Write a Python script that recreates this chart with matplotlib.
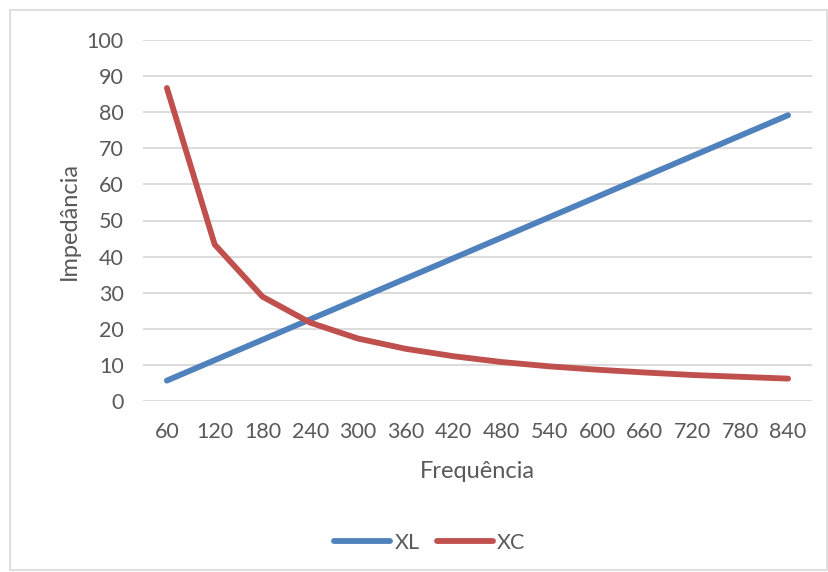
import matplotlib.pyplot as plt
from matplotlib.patches import Rectangle

freq = [60, 120, 180, 240, 300, 360, 420, 480, 540, 600, 660, 720, 780, 840]
xl = [5.65, 11.31, 16.96, 22.62, 28.27, 33.93, 39.58, 45.24, 50.89, 56.55, 62.20, 67.86, 73.51, 79.17]
xc = [86.7, 43.35, 28.9, 21.7, 17.3, 14.45, 12.4, 10.8, 9.6, 8.67, 7.9, 7.2, 6.7, 6.2]

BLUE = '#4f81bd'
RED = '#c0504d'
TXT = '#595959'
GRID = '#d9d9d9'

plt.rcParams['font.family'] = ['Lato', 'DejaVu Sans']

fig = plt.figure(figsize=(8.29, 5.72), dpi=100)
fig.patches.append(Rectangle((10 / 829, 2 / 572), 817 / 829, 560 / 572, transform=fig.transFigure,
                             fill=False, edgecolor=GRID, linewidth=1.2))

ax = fig.add_axes([143 / 829, 1 - 401 / 572, (812 - 143) / 829, (401 - 40) / 572])
pos = list(range(len(freq)))
ax.plot(pos, xl, color=BLUE, lw=4.2, solid_capstyle='round', label='XL')
ax.plot(pos, xc, color=RED, lw=4.2, solid_capstyle='round', label='XC')

ax.set_xlim(-0.5, len(freq) - 0.5)
ax.set_ylim(0, 100)
ax.set_yticks(range(0, 101, 10))
ax.set_xticks(pos)
ax.set_xticklabels([str(f) for f in freq])
ax.grid(axis='y', color=GRID, lw=1.3)
ax.set_axisbelow(True)
for s in ax.spines.values():
    s.set_visible(False)
ax.tick_params(length=0, labelsize=15.5, colors=TXT)
ax.tick_params(axis='y', pad=14)
ax.tick_params(axis='x', pad=15)

ax.set_xlabel('Frequência', fontsize=17, color=TXT, labelpad=14)
ax.set_ylabel('Impedância', fontsize=17, color=TXT, labelpad=5)

leg = ax.legend(loc='center', bbox_to_anchor=(430 / 829, 1 - 543 / 572), bbox_transform=fig.transFigure,
                ncol=2, frameon=False, fontsize=15.5, handlelength=2.6, handletextpad=0.2,
                columnspacing=0.8, labelcolor=TXT)

fig.savefig('out.png', dpi=100)
